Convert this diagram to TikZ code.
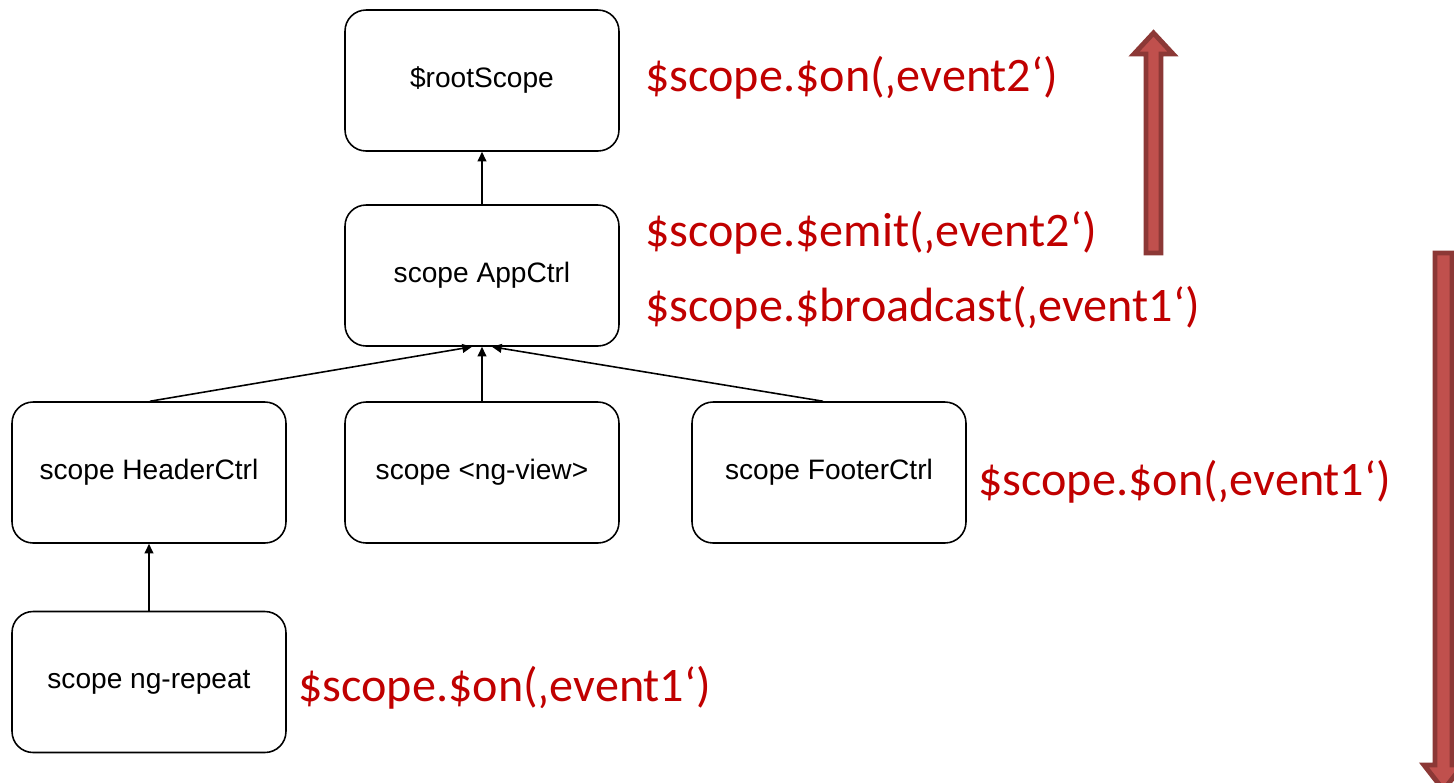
\documentclass[tikz,border=0pt]{standalone}
\usepackage{fontspec}
\setmainfont{Liberation Sans}
\newfontfamily\calibri{Carlito}
\usetikzlibrary{arrows.meta}
\definecolor{evred}{HTML}{C00000}
\definecolor{blkfill}{HTML}{C0504D}
\definecolor{blkline}{HTML}{8C3836}
\tikzset{
  scopebox/.style={draw=black, line width=0.9pt, rounded corners=0.42cm,
    minimum width=5.48cm, minimum height=2.82cm, font=\fontsize{16}{19}\selectfont, inner sep=0pt},
  link/.style={draw=black, line width=0.9pt, -{Triangle[length=5.5pt,width=5pt]}},
  evtext/.style={text=evred, font=\calibri\fontsize{27.4}{32}\selectfont, anchor=west, inner sep=0pt},
  blockarrow/.style={fill=blkfill, draw=blkline, line width=2.8pt, line join=miter}
}
\begin{document}
\begin{tikzpicture}[x=0.02cm,y=-0.02cm]
\useasboundingbox (0,0) rectangle (1454,782);
\clip (0,0) rectangle (1454,782);

\node[scopebox] (root) at (482,80.5) {\$rootScope};
\node[scopebox] (app) at (482,275.5) {scope AppCtrl};
\node[scopebox] (header) at (149,472.5) {scope HeaderCtrl};
\node[scopebox] (view) at (482,472.5) {scope <ng-view>};
\node[scopebox] (footer) at (829,472.5) {scope FooterCtrl};
\node[scopebox] (repeat) at (149,682) {scope ng-repeat};

\draw[link] (app.north) -- (root.south);
\draw[link] ([xshift=0.02cm]header.north) -- ([xshift=-0.2cm]app.south);
\draw[link] (view.north) -- (app.south);
\draw[link] ([xshift=-0.12cm]footer.north) -- ([xshift=0.2cm]app.south);
\draw[link] (repeat.north) -- (header.south);

\node[evtext] (t1) at (645,78) {\$scope.\$on(‚event2‘)};
\node[evtext] (t2) at (645,233) {\$scope.\$emit(‚event2‘)};
\node[evtext] (t3) at (645,308) {\$scope.\$broadcast(‚event1‘)};
\node[evtext] (t4) at (978,482) {\$scope.\$on(‚event1‘)};
\node[evtext] (t5) at (298,688) {\$scope.\$on(‚event1‘)};

% up block arrow
\draw[blockarrow] (1146,253) -- (1146,54) -- (1134,54) -- (1153.5,33) -- (1173,54) -- (1161,54) -- (1161,253) -- cycle;
% down block arrow
\draw[blockarrow] (1435,253) -- (1435,765) -- (1424,765) -- (1443.5,790) -- (1463,765) -- (1452,765) -- (1452,253) -- cycle;
\end{tikzpicture}
\end{document}
